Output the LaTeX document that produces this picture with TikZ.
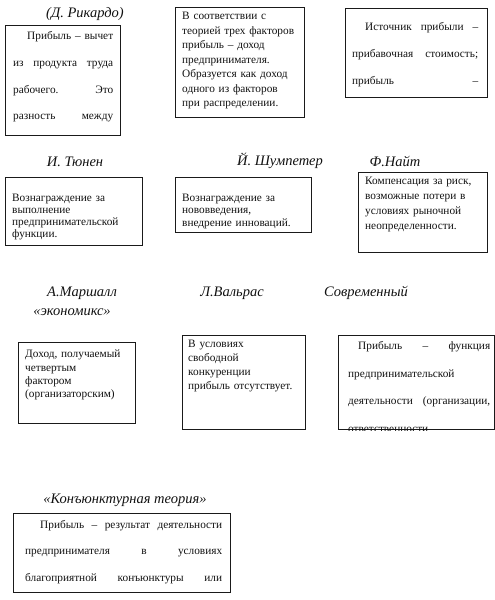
\documentclass[tikz,border=0pt]{standalone}
\usepackage{fontspec}
\setmainfont{Liberation Serif}
\usepackage{tikz}
\usetikzlibrary{positioning,calc}
\definecolor{ink}{HTML}{111111}
\definecolor{frame}{HTML}{1A1A1A}
\newcommand{\jline}[1]{\makebox[\hsize][s]{\spaceskip=0pt\xspaceskip=0pt\relax #1}\par}
\tikzset{
  card/.style={draw=frame,line width=1pt,inner sep=0pt,anchor=north west},
  who/.style={font=\itshape\fontsize{14.5}{16}\selectfont,text=ink,inner sep=0pt},
  txt/.style={font=\fontsize{11.3}{13}\selectfont,text=ink,inner sep=0pt,
    anchor=north west,align=left,text width=#1},
  txt/.default=150pt,
  jtxt/.style={txt=#1,font=\fontsize{11.3}{26.7}\selectfont},
}
\begin{document}
\begin{tikzpicture}[x=1pt,y=-1pt]
  \useasboundingbox (0,0) rectangle (495,600);
  % --- first row ---
  \node[who] (ricardo) at (85,14) {(Д. Рикардо)};
  \node[card,minimum width=115pt,minimum height=110pt] (ricbox) at (5,25) {};
  \node[jtxt=100pt] (rictxt) at ([shift={(8,6.5)}]ricbox.north west) {%
    \jline{\hspace*{14pt}Прибыль – вычет}
    \jline{из продукта труда}
    \jline{рабочего. Это}
    \jline{разность между}};
  \node[card,minimum width=129pt,minimum height=110pt] (trebox) at (175,7) {};
  \node[txt,font=\fontsize{11.3}{14.5}\selectfont] (tretxt) at ([shift={(7,5)}]trebox.north west) {%
    В соответствии с\\ теорией трех факторов\\ прибыль – доход\\
    предпринимателя.\\ Образуется как доход\\ одного из факторов\\ при распределении.};
  \node[card,minimum width=142pt,minimum height=89pt] (marxbox) at (345,8) {};
  \node[jtxt=126pt] (marxtxt) at ([shift={(7,14.5)}]marxbox.north west) {%
    \jline{\hspace*{13pt}Источник прибыли –}
    \jline{прибавочная стоимость;}
    \jline{прибыль –}};
  % --- second row ---
  \node[who] (tunen) at (75,162) {И. Тюнен};
  \node[card,minimum width=137pt,minimum height=68pt] (tunbox) at (5,177) {};
  \node[txt,font=\fontsize{11.3}{12}\selectfont] (tuntxt) at ([shift={(7,16.5)}]tunbox.north west) {%
    Вознаграждение за\\ выполнение\\ предпринимательской\\ функции.};
  \node[who] (schump) at (280,161) {Й. Шумпетер};
  \node[card,minimum width=136pt,minimum height=55pt] (schbox) at (175,177) {};
  \node[txt,font=\fontsize{11.3}{12.5}\selectfont] (schtxt) at ([shift={(7,16.5)}]schbox.north west) {%
    Вознаграждение за\\ нововведения,\\ внедрение инноваций.};
  \node[who] (knight) at (395,161) {Ф.Найт};
  \node[card,minimum width=129pt,minimum height=80pt] (knibox) at (358,172) {};
  \node[txt,font=\fontsize{11.3}{15}\selectfont] (knitxt) at ([shift={(7,5)}]knibox.north west) {%
    Компенсация за риск,\\ возможные потери в\\ условиях рыночной\\ неопределенности.};
  % --- third row ---
  \node[who] (marshall) at (82,293) {А.Маршалл};
  \node[who] (econ) at (72,312) {«экономикс»};
  \node[card,minimum width=117pt,minimum height=81pt] (marbox) at (18,342) {};
  \node[txt,font=\fontsize{11.3}{13.3}\selectfont] (martxt) at ([shift={(7,8)}]marbox.north west) {%
    Доход, получаемый\\ четвертым\\ фактором\\ (организаторским)};
  \node[who] (walras) at (232,293) {Л.Вальрас};
  \node[card,minimum width=123pt,minimum height=94pt] (walbox) at (182,335) {};
  \node[txt,font=\fontsize{11.3}{14}\selectfont] (waltxt) at ([shift={(6,5)}]walbox.north west) {%
    В условиях\\ свободной\\ конкуренции\\ прибыль отсутствует.};
  \node[who] (modern) at (366,293) {Современный};
  \node[card,minimum width=155.5pt,minimum height=94pt] (modbox) at (338,335) {};
  \begin{scope}
    \clip (modbox.north west) rectangle (modbox.south east);
    \node[jtxt=142pt,font=\fontsize{11.3}{27.5}\selectfont] (modtxt) at ([shift={(10,6.5)}]modbox.north west) {%
      \jline{\hspace*{10pt}Прибыль – функция}
      \jline{предпринимательской\hfill}
      \jline{деятельности (организации,}
      \jline{ответственности\hfill}};
  \end{scope}
  % --- last row ---
  \node[who] (conj) at (125,500) {«Конъюнктурная теория»};
  \node[card,minimum width=217pt,minimum height=79pt] (conbox) at (13,513) {};
  \node[jtxt=197pt] (contxt) at ([shift={(12,7)}]conbox.north west) {%
    \jline{\hspace*{15pt}Прибыль – результат деятельности}
    \jline{предпринимателя в условиях}
    \jline{благоприятной конъюнктуры или}};
\end{tikzpicture}
\end{document}
